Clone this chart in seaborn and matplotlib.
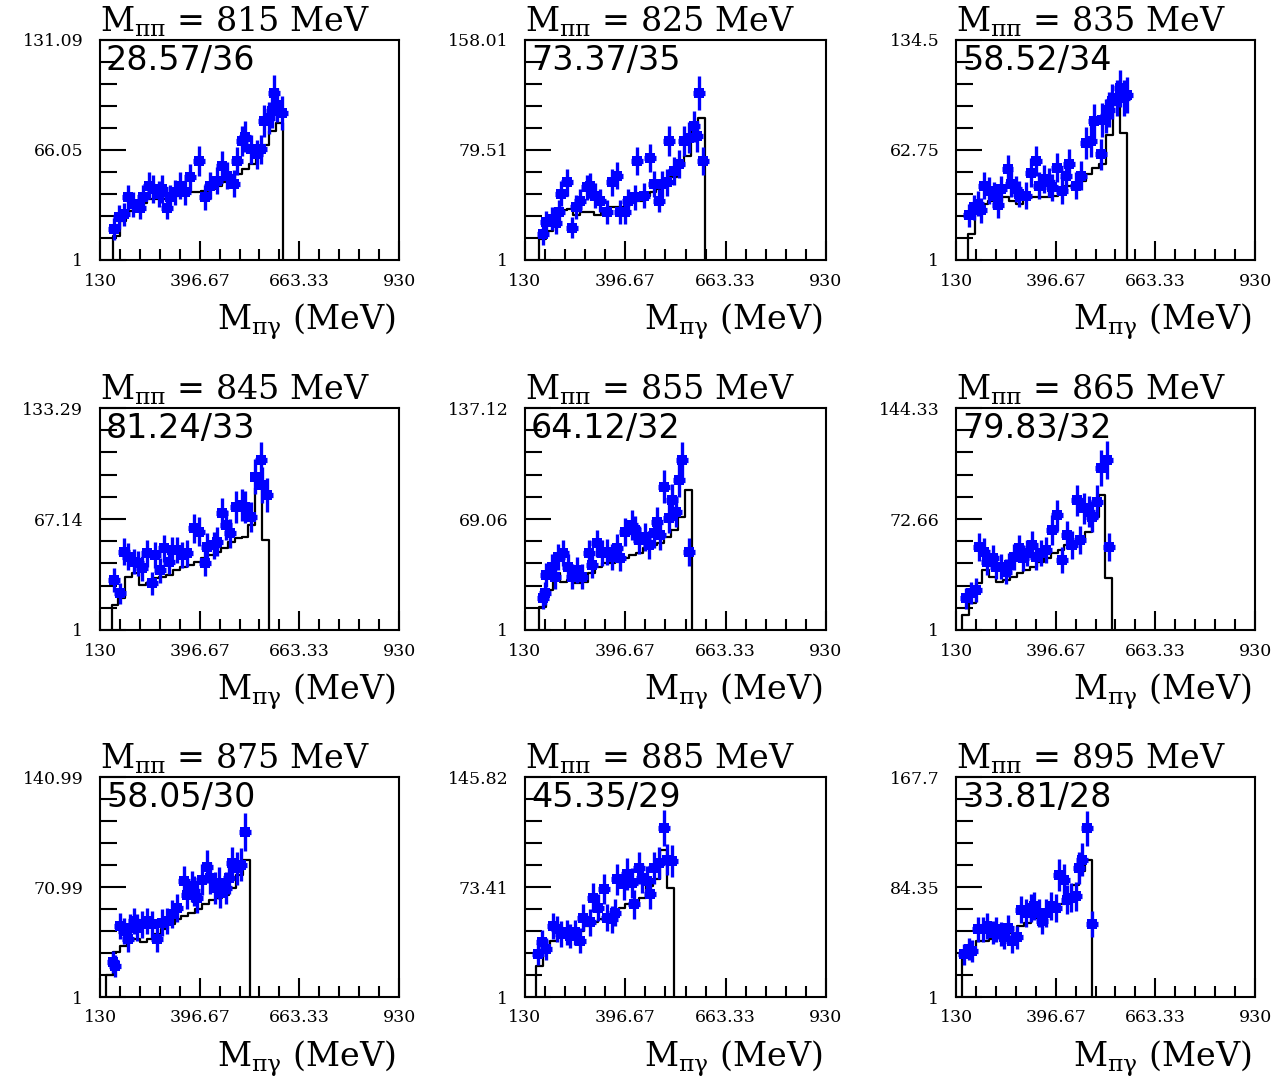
import numpy as np
import pandas as pd
import matplotlib
matplotlib.use("Agg")
import matplotlib.pyplot as plt
import seaborn as sns

sns.set_theme(style="white")
plt.rcParams["font.family"] = ["DejaVu Serif", "DejaVu Sans"]
plt.rcParams["mathtext.fontset"] = "dejavuserif"

# ---------------------------------------------------------------- data
m_pipi = [815, 825, 835, 845, 855, 865, 875, 885, 895]
chi2_ndf = ["28.57/36", "73.37/35", "58.52/34", "81.24/33", "64.12/32",
            "79.83/32", "58.05/30", "45.35/29", "33.81/28"]
y_axis_max = [131.09, 158.01, 124.5, 133.29, 137.12, 144.33, 140.99, 145.82, 167.7]
y_tick_labels = [["1", "66.05", "131.09"], ["1", "79.51", "158.01"],
                 ["1", "62.75", "134.5"], ["1", "67.14", "133.29"],
                 ["1", "69.06", "137.12"], ["1", "72.66", "144.33"],
                 ["1", "70.99", "140.99"], ["1", "73.41", "145.82"],
                 ["1", "84.35", "167.7"]]
x_tick_values = [130, 396.67, 663.33, 930]
x_tick_labels = ["130", "396.67", "663.33", "930"]

# fitted M(pi gamma) distributions: range of the histogram and bin contents
hist_range = [(164, 619), (167, 608), (161, 588), (161, 582), (167, 574),
              (146, 548), (146, 531), (159, 525), (146, 494.5)]
h_815 = [15, 24, 30, 33, 35, 37, 37, 37, 38, 39, 40, 41, 41, 42, 43, 45, 47, 49,
         52, 55, 58, 63, 69, 77, 82]
h_825 = [16.3, 22, 31.6, 36.4, 37.5, 32.8, 35.2, 35.2, 32.8, 37.5, 38.7, 38.7,
         38.7, 42.3, 43.4, 47, 49.3, 51.7, 55.2, 60, 68.2, 75.3, 93, 102.4]
h_835 = [15.8, 30.7, 32.5, 34.4, 34.4, 36.2, 34.4, 32.5, 35.3, 36.2, 36.2, 36.2,
         37.2, 39, 42.7, 43.6, 45.5, 49.2, 52.9, 54.8, 71.4, 88.1, 72.4]
h_845 = [15.9, 19.9, 32.8, 34.8, 27.8, 28.8, 31.8, 32.8, 33.8, 36.7, 38.7, 39.7,
         41.7, 43.7, 45.7, 47.7, 49.7, 53.6, 55.6, 56.6, 63.6, 85.4, 54.6]
h_855 = [15.3, 25.5, 35.7, 30.6, 31.7, 29.6, 30.6, 35.7, 39.8, 41.9, 41.9, 42.9,
         45, 47, 48, 51.1, 53.1, 54.1, 58.2, 62.3, 70.5, 86.8]
h_865 = [10.7, 18.2, 31.1, 39.7, 35.4, 32.2, 33.3, 35.4, 37.6, 39.7, 41.9, 45.1,
         47.3, 50.5, 52.6, 55.9, 58, 60.2, 64.5, 74.2, 88.2, 34.4]
h_875 = [14.7, 29.4, 33.6, 36.7, 37.8, 35.7, 37.8, 40.9, 44.1, 47.2, 50.4, 52.5,
         54.6, 56.7, 59.9, 63, 64.1, 66.2, 70.4, 78.8, 88.2]
h_885 = [21.7, 30.4, 38.1, 40.2, 41.3, 42.4, 44.6, 47.9, 50.1, 52.2, 54.4, 56.6,
         59.9, 62, 64.2, 66.4, 74, 78.4, 98, 72.9]
h_895 = [33.5, 37.3, 43.6, 43.6, 44.8, 47.3, 49.8, 49.8, 54.8, 57.3, 61.1, 64.8,
         67.3, 69.8, 71.1, 76.1, 86.1, 96.1, 104.9]

# measured points: M(pi gamma) [MeV], counts, statistical errors
x_815 = [168, 182, 193, 206, 218, 236, 246, 262, 273, 287, 296, 309, 318, 331, 345,
         358, 372, 394, 412, 425, 443, 457, 470, 488, 497, 510, 519, 533, 551, 560,
         569, 582, 591, 595, 604, 618]
y_815 = [19.6, 26.4, 28.0, 38.0, 34.0, 32.0, 38.0, 45.0, 43.0, 40.0, 43.0, 32.0,
         38.0, 41.0, 45.0, 41.0, 50.0, 59.6, 38.0, 45.0, 48.0, 56.7, 50.8, 46.0,
         59.6, 71.3, 74.0, 66.4, 63.5, 66.4, 83.0, 85.0, 88.9, 99.6, 92.8, 88.0]
e_815 = [6.5, 7, 7, 7.5, 7.5, 7, 7.5, 8, 8, 7.5, 8, 7, 7.5, 7.5, 8, 7.5, 8, 9, 7.5,
         8, 8, 8.5, 8, 8, 8.5, 9, 9, 8.5, 8.5, 8.5, 9.5, 9.5, 10, 10.5, 10, 10]

x_825 = [177, 187, 201, 212, 221, 227, 241, 254, 266, 276, 294, 303, 316, 330, 347,
         361, 374, 383, 396, 405, 423, 427, 445, 463, 472, 485, 494, 508, 512, 525,
         539, 552, 565, 579, 588, 592, 604]
y_825 = [19.4, 28.1, 30.5, 27.4, 35.2, 48.2, 56.4, 23.9, 38.7, 43.4, 52.9, 54.0,
         47.0, 43.4, 35.2, 56.4, 61.1, 35.2, 35.2, 43.4, 45.8, 71.7, 47.0, 74.1,
         55.2, 43.4, 55.2, 56.4, 85.9, 64.7, 69.4, 85.9, 88.2, 96.5, 89.4, 120.0, 71.7]
e_825 = [7.5, 8, 8, 8, 8.5, 9, 9.5, 7.5, 8.5, 8.5, 9, 9, 9, 8.5, 8.5, 9.5, 9.5, 8.5,
         8.5, 8.5, 9, 10, 9, 10, 9.5, 8.5, 9.5, 9.5, 10.5, 10, 10, 10.5, 11, 11, 11,
         12, 10]

x_835 = [165.5, 178.9, 187.8, 196.6, 205.5, 218.9, 232.2, 241.1, 250, 267.8, 276.7,
         290, 298.9, 316.7, 330, 343.3, 352.2, 365.6, 378.9, 387.8, 401.1, 414.4,
         423.3, 432.2, 450, 463.3, 476.7, 490, 498.9, 516.7, 521.1, 530, 538.9,
         547.8, 561.1, 570, 578.9, 587.8]
y_835 = [26, 30.7, 32.5, 28.8, 42.7, 39.9, 37.2, 31.6, 40.9, 52, 43.6, 40.9, 38.1,
         37.2, 50.1, 56.6, 42.7, 46.4, 44.6, 41.8, 52.9, 39.9, 48.3, 54.8, 42.7,
         48.3, 66.8, 67.7, 78.9, 60.3, 79.8, 81.6, 85.4, 90, 91.8, 97.4, 91.8, 93.7]
e_835 = [6.5, 7, 7, 7, 7.5, 7.5, 7.5, 7, 7.5, 8, 7.5, 7.5, 7.5, 7.5, 8, 8.5, 7.5, 8,
         8, 7.5, 8, 7.5, 8, 8.5, 7.5, 8, 9, 9, 9.5, 8.5, 9.5, 9.5, 10, 10, 10, 10.5,
         10, 10]

x_845 = [168, 184, 193, 206, 220, 233, 242, 255, 269, 278, 291, 300, 314, 322, 336,
         349, 363, 381, 394, 412, 416, 434, 443, 457, 466, 479, 493, 510, 519, 533,
         546, 560, 564, 578]
y_845 = [30.8, 22.8, 47.7, 44.7, 41.7, 40.7, 37.7, 46.7, 28.8, 45.7, 36.7, 49.7,
         41.7, 48.7, 48.7, 45.7, 46.7, 61.6, 59.6, 40.7, 50.7, 51.6, 53.6, 70.5,
         63.6, 58.6, 74.5, 75.5, 74.5, 68.5, 92.4, 102.3, 87.4, 81.4]
e_845 = [7, 6.5, 8, 8, 7.5, 7.5, 7.5, 8, 7, 8, 7.5, 8, 7.5, 8, 8, 8, 8, 8.5, 8.5,
         7.5, 8, 8, 8.5, 9, 9, 8.5, 9.5, 9.5, 9.5, 9, 10.5, 11, 10.5, 10]

x_855 = [177, 183, 187, 201, 210, 219, 232, 245, 254, 267, 281, 299, 307, 321, 334,
         347, 361, 374, 383, 396, 414, 423, 432, 450, 459, 472, 481, 490, 499, 512,
         521, 530, 539, 548, 565]
y_855 = [20.4, 23.5, 34.7, 39.8, 33.7, 46, 48, 39.8, 33.7, 37.8, 33.7, 48, 40.9,
         54.1, 48, 49, 46, 51.1, 44.9, 61.3, 65.4, 62.3, 56.2, 58.2, 53.1, 60.3,
         67.4, 59.3, 88.9, 69.5, 80.7, 73.6, 93, 105.2, 49]
e_855 = [6.5, 7, 7.5, 8, 7.5, 8, 8, 8, 7.5, 8, 7.5, 8, 8, 8.5, 8, 8, 8, 8.5, 8, 8.5,
         9, 8.5, 8.5, 8.5, 8.5, 9, 9, 9, 10, 9, 10, 9.5, 10.5, 11, 8.5]

x_865 = [157, 170, 183, 192, 206, 214, 228, 237, 250, 263, 272, 286, 299, 308, 321,
         334, 343, 357, 370, 388, 401, 414, 428, 441, 455, 463, 472, 486, 495, 508,
         517, 535, 539]
y_865 = [21.4, 24.7, 26.8, 54.8, 51.6, 45.1, 47.3, 41.9, 41.9, 38.7, 43, 48.3, 53.7,
         47.3, 50.5, 55.9, 48.3, 50.5, 52.6, 65.6, 75.2, 46.2, 62.3, 55.9, 84.9,
         59.1, 79.5, 77.4, 74.2, 83.9, 105.4, 110.8, 54.8]
e_865 = [7, 7, 7.5, 9, 8.5, 8.5, 8.5, 8, 8, 8, 8, 8.5, 8.5, 8.5, 8.5, 9, 8.5, 8.5,
         8.5, 9.5, 10, 8.5, 9, 9, 10, 9, 10, 10, 10, 10.5, 11.5, 12, 9]

x_875 = [164, 170, 184, 193, 206, 211, 220, 229, 242, 255, 269, 282, 296, 309, 322,
         336, 354, 363, 376, 381, 390, 403, 416, 425, 439, 448, 452, 466, 475, 484,
         497, 506, 519]
y_875 = [23.1, 21, 46.2, 43, 37.8, 45.1, 49.4, 45.1, 47.2, 49.4, 47.2, 37.8, 48.3,
         49.4, 53.6, 57.8, 74.6, 66.2, 71.4, 68.3, 64.1, 75.6, 84, 76.6, 70.3, 73.5,
         67.2, 70.3, 76.6, 86.1, 82.9, 85, 106]
e_875 = [7, 7, 8.5, 8, 8, 8.5, 8.5, 8.5, 8.5, 8.5, 8.5, 8, 8.5, 8.5, 9, 9, 10, 9.5,
         10, 9.5, 9.5, 10, 10.5, 10, 10, 10, 9.5, 10, 10, 10.5, 10.5, 10.5, 12]

x_885 = [165, 174, 187, 205, 214, 227, 241, 250, 263, 276, 285, 303, 312, 325, 339,
         347, 361, 370, 374, 392, 401, 414, 419, 432, 441, 454, 463, 472, 485, 499,
         508, 521]
y_885 = [29.3, 37, 32.6, 47.9, 45.7, 42.4, 43.5, 41.3, 43.5, 38.1, 53.3, 50.1, 66.4,
         59.9, 71.9, 53.3, 52.2, 56.6, 78.4, 75.1, 81.7, 76.2, 62, 86, 79.5, 77.3,
         68.6, 86, 89.3, 112.2, 91.5, 90.4]
e_885 = [7.5, 8, 7.5, 8.5, 8.5, 8.5, 8.5, 8, 8.5, 8, 9, 9, 9.5, 9, 10, 9, 9, 9, 10,
         10, 10.5, 10, 9.5, 10.5, 10, 10, 9.5, 10.5, 10.5, 12, 10.5, 10.5]

x_895 = [152, 164, 174, 188, 201, 214, 228, 237, 250, 259, 268, 281, 294, 303, 317,
         330, 339, 352, 361, 370, 383, 397, 406, 419, 428, 437, 450, 459, 468, 481,
         495]
y_895 = [33.5, 37.3, 36, 52.3, 52.3, 54.8, 49.8, 52.3, 48.6, 46.1, 53.6, 43.6, 46.1,
         67.3, 64.8, 68.6, 69.8, 64.8, 58.6, 64.8, 69.8, 68.6, 93.6, 89.9, 74.8,
         76.1, 77.3, 98.6, 104.9, 128.7, 56.1]
e_895 = [8, 8.5, 8.5, 9.5, 9.5, 9.5, 9, 9.5, 9, 9, 9.5, 9, 9, 10.5, 10.5, 10.5, 10.5,
         10.5, 10, 10.5, 10.5, 10.5, 12, 11.5, 11, 11, 11, 12, 12.5, 13.5, 10]

hists = [h_815, h_825, h_835, h_845, h_855, h_865, h_875, h_885, h_895]
xs = [x_815, x_825, x_835, x_845, x_855, x_865, x_875, x_885, x_895]
ys = [y_815, y_825, y_835, y_845, y_855, y_865, y_875, y_885, y_895]
es = [e_815, e_825, e_835, e_845, e_855, e_865, e_875, e_885, e_895]
x_half_width = 16  # MeV, horizontal extent of each measured point

# ---------------------------------------------------------------- layout
W, H = 1278, 1085
col_left = [100, 525, 956]
col_width = [299, 301, 299]
row_top = [40, 408, 777]
row_bottom = [260, 630, 997]

fig = plt.figure(figsize=(W / 100, H / 100), dpi=100)
fig.patch.set_facecolor("white")

BLUE = "#0000ff"

for i in range(9):
    r, c = divmod(i, 3)
    ax = fig.add_axes([col_left[c] / W, 1 - row_bottom[r] / H,
                       col_width[c] / W, (row_bottom[r] - row_top[r]) / H])
    ax.set_facecolor("white")

    # expected distribution as a step histogram (zero bins close the outline)
    lo, hi = hist_range[i]
    n = len(hists[i])
    edges = np.linspace(lo, hi, n + 1)
    step = edges[1] - edges[0]
    edges_pad = [lo - step] + list(edges) + [hi + step]
    hist_df = pd.DataFrame({
        "m": [0.5 * (a + b) for a, b in zip(edges_pad[:-1], edges_pad[1:])],
        "w": [0.0] + list(hists[i]) + [0.0],
    })
    sns.histplot(data=hist_df, x="m", weights="w", bins=edges_pad,
                 element="step", fill=False, color="black", linewidth=1.6,
                 ax=ax, zorder=2)

    # measured points
    ax.errorbar(xs[i], ys[i], xerr=x_half_width, fmt="none", ecolor=BLUE,
                elinewidth=3.8, capsize=0, zorder=3)
    ax.errorbar(xs[i], ys[i], yerr=es[i], fmt="none", ecolor=BLUE,
                elinewidth=2.4, capsize=0, zorder=3)
    pts = pd.DataFrame({"m": xs[i], "n": ys[i]})
    sns.scatterplot(data=pts, x="m", y="n", marker="s", s=42, color=BLUE,
                    edgecolor=BLUE, linewidth=0, ax=ax, zorder=4)

    ymax = y_axis_max[i]
    ax.set_xlim(130, 930)
    ax.set_ylim(1, ymax)
    ax.set_xlabel("")
    ax.set_ylabel("")

    ax.set_xticks(x_tick_values)
    ax.set_xticklabels(x_tick_labels)
    ax.set_xticks(np.linspace(130, 930, 16), minor=True)
    ax.set_yticks([1, (1 + ymax) / 2, ymax])
    ax.set_yticklabels(y_tick_labels[i])
    ax.set_yticks(np.linspace(1, ymax, 11), minor=True)

    ax.tick_params(axis="x", which="major", direction="in", length=13.5,
                   width=1.5, color="black", pad=9, labelsize=12.5,
                   labelcolor="black", bottom=True, top=False)
    ax.tick_params(axis="x", which="minor", direction="in", length=8,
                   width=1.5, color="black", bottom=True, top=False)
    ax.tick_params(axis="y", which="major", direction="in", length=19,
                   width=1.5, color="black", pad=12, labelsize=12.5,
                   labelcolor="black", left=True, right=False)
    ax.tick_params(axis="y", which="minor", direction="in", length=12,
                   width=1.5, color="black", left=True, right=False)
    for sp in ax.spines.values():
        sp.set_color("black")
        sp.set_linewidth(1.5)
    ax.grid(False)

    h_px = row_bottom[r] - row_top[r]
    ax.text(0.0, 1 + 8 / h_px, "M$_{\\mathregular{ππ}}$ = %d MeV" % m_pipi[i],
            transform=ax.transAxes, ha="left", va="baseline", fontsize=24,
            color="black")
    ax.text(0.02, 1 - 30 / h_px, chi2_ndf[i], transform=ax.transAxes,
            ha="left", va="baseline", fontsize=24, color="black",
            family=["DejaVu Sans"])
    ax.text(0.99, -70 / h_px, "M$_{\\mathregular{πγ}}$ (MeV)",
            transform=ax.transAxes, ha="right", va="baseline", fontsize=24,
            color="black")

fig.savefig("out.png", dpi=100, facecolor="white")
